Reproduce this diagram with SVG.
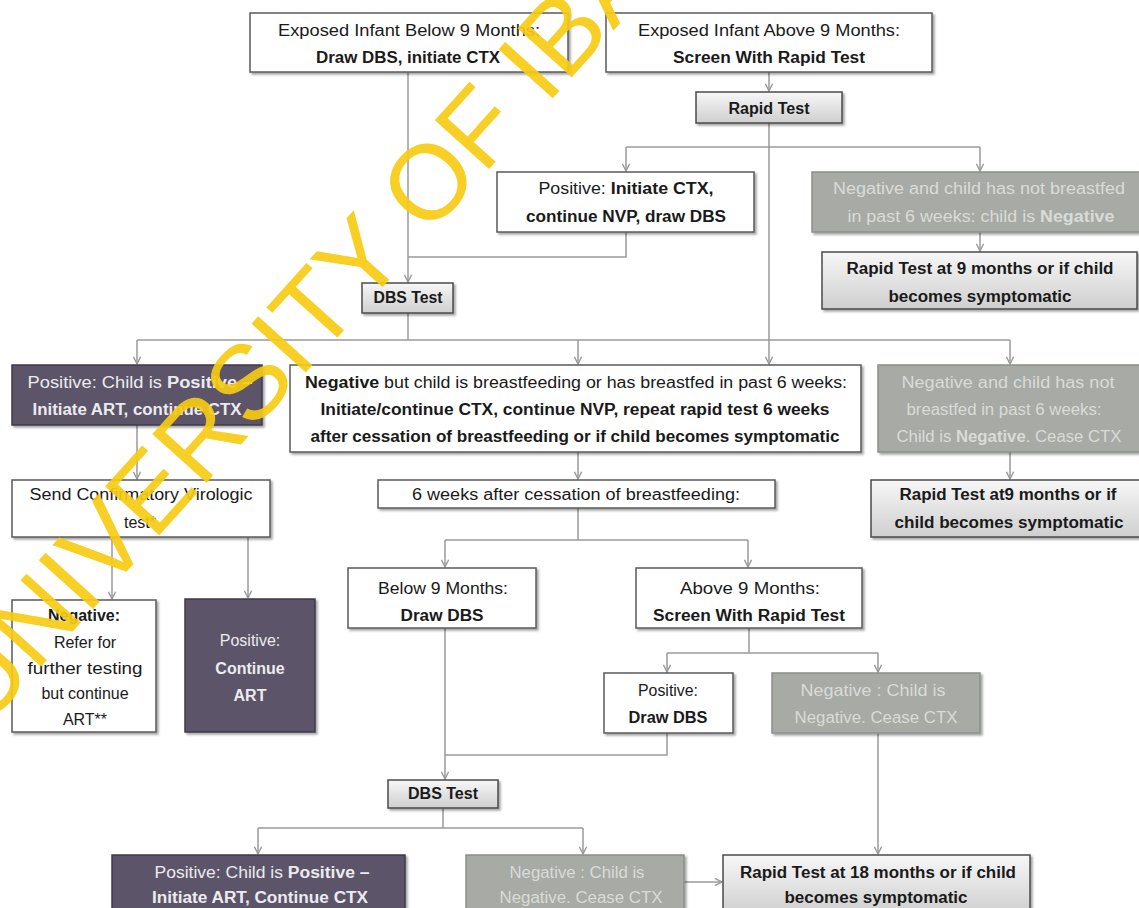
<svg xmlns="http://www.w3.org/2000/svg" width="1139" height="908" viewBox="0 0 1139 908">
  <defs>
    <linearGradient id="gTest" x1="0" y1="0" x2="0" y2="1">
      <stop offset="0" stop-color="#f7f7f7"/>
      <stop offset="1" stop-color="#cfcfcf"/>
    </linearGradient>
    <filter id="shadow" x="-5%" y="-5%" width="115%" height="130%">
      <feDropShadow dx="2" dy="2" stdDeviation="1.2" flood-color="#000" flood-opacity="0.35"/>
    </filter>
    <marker id="arr" viewBox="0 0 10 10" refX="9" refY="5" markerWidth="9" markerHeight="9" markerUnits="userSpaceOnUse" orient="auto">
      <path d="M1,1 L9,5 L1,9" fill="none" stroke="#9a9a9a" stroke-width="1.6"/>
    </marker>
  </defs>
  <style>
    text { font-family: "Liberation Sans Narrow", "Liberation Sans", Arial, sans-serif; font-size: 16px; text-anchor: middle; }
    .b { font-weight: bold; }
    .box { fill: #ffffff; stroke: #5a5a5a; stroke-width: 1.5; filter: url(#shadow); }
    .test { fill: url(#gTest); stroke: #4a4a4a; stroke-width: 1.5; filter: url(#shadow); }
    .dark { fill: #5b5569; stroke: #3e3a48; stroke-width: 1.5; filter: url(#shadow); }
    .grey { fill: #a8aaa6; stroke: #8c8e8a; stroke-width: 1.5; filter: url(#shadow); }
    .tw { fill: #1a1a1a; }
    .td { fill: #ecebf0; }
    .tg { fill: #d9dcd6; }
    .c { fill: none; stroke: #9a9a9a; stroke-width: 1.5; }
    .wm { font-family: "Liberation Sans", Arial, sans-serif; font-size: 106px; text-anchor: start; fill: #f6cb12; fill-opacity: 0.92; }
  </style>
  <rect width="1139" height="908" fill="#ffffff"/>

  <!-- connectors -->
  <g id="connectors">
    <path class="c" d="M769 72 V91" marker-end="url(#arr)"/>
    <path class="c" d="M769 123 V364" marker-end="url(#arr)"/>
    <path class="c" d="M626 147 H980"/>
    <path class="c" d="M626 147 V171" marker-end="url(#arr)"/>
    <path class="c" d="M980 147 V171" marker-end="url(#arr)"/>
    <path class="c" d="M980 232 V251" marker-end="url(#arr)"/>
    <path class="c" d="M408 72 V282" marker-end="url(#arr)"/>
    <path class="c" d="M626 232 V257 H408"/>
    <path class="c" d="M408 313 V340"/>
    <path class="c" d="M137 340 H1010"/>
    <path class="c" d="M137 340 V364" marker-end="url(#arr)"/>
    <path class="c" d="M578 340 V364" marker-end="url(#arr)"/>
    <path class="c" d="M1010 340 V364" marker-end="url(#arr)"/>
    <path class="c" d="M1010 452 V479" marker-end="url(#arr)"/>
    <path class="c" d="M137 425 V479" marker-end="url(#arr)"/>
    <path class="c" d="M112 537 V599" marker-end="url(#arr)"/>
    <path class="c" d="M248 537 V598" marker-end="url(#arr)"/>
    <path class="c" d="M578 452 V479" marker-end="url(#arr)"/>
    <path class="c" d="M578 508 V540"/>
    <path class="c" d="M445 540 H748"/>
    <path class="c" d="M445 540 V567" marker-end="url(#arr)"/>
    <path class="c" d="M748 540 V567" marker-end="url(#arr)"/>
    <path class="c" d="M749 628 V653"/>
    <path class="c" d="M667 653 H878"/>
    <path class="c" d="M667 653 V672" marker-end="url(#arr)"/>
    <path class="c" d="M878 653 V672" marker-end="url(#arr)"/>
    <path class="c" d="M445 628 V779" marker-end="url(#arr)"/>
    <path class="c" d="M667 733 V755 H445"/>
    <path class="c" d="M443 808 V828"/>
    <path class="c" d="M258 828 H583"/>
    <path class="c" d="M258 828 V854" marker-end="url(#arr)"/>
    <path class="c" d="M583 828 V854" marker-end="url(#arr)"/>
    <path class="c" d="M878 733 V854" marker-end="url(#arr)"/>
    <path class="c" d="M684 882 H722" marker-end="url(#arr)"/>
  </g>

  <!-- entry points -->
  <g id="infantBelow9">
    <rect class="box" x="250" y="13" width="318" height="59"/>
    <text class="tw" x="409" y="36" textLength="262" lengthAdjust="spacingAndGlyphs">Exposed Infant Below 9 Months:</text>
    <text class="tw b" x="408" y="63" textLength="184" lengthAdjust="spacingAndGlyphs">Draw DBS, initiate CTX</text>
  </g>
  <g id="infantAbove9">
    <rect class="box" x="606" y="13" width="326" height="59"/>
    <text class="tw" x="769" y="36" textLength="262" lengthAdjust="spacingAndGlyphs">Exposed Infant Above 9 Months:</text>
    <text class="tw b" x="769" y="63" textLength="192" lengthAdjust="spacingAndGlyphs">Screen With Rapid Test</text>
  </g>
  <g id="rapidTest">
    <rect class="test" x="696" y="92" width="146" height="31"/>
    <text class="tw b" x="769" y="114" textLength="81" lengthAdjust="spacingAndGlyphs">Rapid Test</text>
  </g>

  <!-- rapid test outcomes -->
  <g id="rapidPositive">
    <rect class="box" x="497" y="172" width="257" height="60"/>
    <text class="tw" x="626" y="194" textLength="175" lengthAdjust="spacingAndGlyphs">Positive:  <tspan class="b">Initiate CTX,</tspan></text>
    <text class="tw b" x="626" y="222" textLength="200" lengthAdjust="spacingAndGlyphs">continue NVP, draw DBS</text>
  </g>
  <g id="rapidNegativeNotBreastfed">
    <rect class="grey" x="812" y="172" width="330" height="60"/>
    <text class="tg" x="979" y="194" textLength="292" lengthAdjust="spacingAndGlyphs">Negative and child has not breastfed</text>
    <text class="tg" x="981" y="222" textLength="267" lengthAdjust="spacingAndGlyphs">in past 6 weeks: child is <tspan class="b">Negative</tspan></text>
  </g>
  <g id="rapidTest9">
    <rect class="test" x="822" y="252" width="315" height="57"/>
    <text class="tw b" x="980" y="274" textLength="267" lengthAdjust="spacingAndGlyphs">Rapid Test at 9 months or if child</text>
    <text class="tw b" x="980" y="302" textLength="183" lengthAdjust="spacingAndGlyphs">becomes symptomatic</text>
  </g>
  <g id="dbsTest1">
    <rect class="test" x="362" y="283" width="91" height="30"/>
    <text class="tw b" x="408" y="303" textLength="69" lengthAdjust="spacingAndGlyphs">DBS Test</text>
  </g>

  <!-- DBS outcomes -->
  <g id="dbsPositive">
    <rect class="dark" x="12" y="365" width="250" height="60"/>
    <text class="td" x="140" y="388" textLength="225" lengthAdjust="spacingAndGlyphs">Positive:  Child is <tspan class="b">Positive –</tspan></text>
    <text class="td b" x="137" y="415" textLength="209" lengthAdjust="spacingAndGlyphs">Initiate ART, continue CTX</text>
  </g>
  <g id="negativeBreastfeeding">
    <rect class="box" x="290" y="365" width="571" height="87"/>
    <text class="tw" x="576" y="388" textLength="542" lengthAdjust="spacingAndGlyphs"><tspan class="b">Negative</tspan> but child is breastfeeding or has breastfed in past 6 weeks:</text>
    <text class="tw b" x="575" y="415" textLength="509" lengthAdjust="spacingAndGlyphs">Initiate/continue CTX, continue NVP, repeat rapid test 6 weeks</text>
    <text class="tw b" x="575" y="442" textLength="529" lengthAdjust="spacingAndGlyphs">after cessation of breastfeeding or if child becomes symptomatic</text>
  </g>
  <g id="dbsNegativeNotBreastfed">
    <rect class="grey" x="878" y="365" width="264" height="87"/>
    <text class="tg" x="1008" y="388" textLength="213" lengthAdjust="spacingAndGlyphs">Negative and child has not</text>
    <text class="tg" x="1004" y="415" textLength="195" lengthAdjust="spacingAndGlyphs">breastfed in past 6 weeks:</text>
    <text class="tg" x="1009" y="442" textLength="225" lengthAdjust="spacingAndGlyphs">Child is <tspan class="b">Negative</tspan>. Cease CTX</text>
  </g>
  <g id="rapidTestAt9">
    <rect class="test" x="871" y="480" width="270" height="57"/>
    <text class="tw b" x="1008" y="500" textLength="217" lengthAdjust="spacingAndGlyphs">Rapid Test at9 months or if</text>
    <text class="tw b" x="1009" y="528" textLength="229" lengthAdjust="spacingAndGlyphs">child becomes symptomatic</text>
  </g>

  <!-- confirmation branch -->
  <g id="confirmatoryTest">
    <rect class="box" x="12" y="480" width="258" height="57"/>
    <text class="tw" x="141" y="500" textLength="223" lengthAdjust="spacingAndGlyphs">Send Confirmatory Virologic</text>
    <text class="tw" x="140" y="528">test*</text>
  </g>
  <g id="confirmNegative">
    <rect class="box" x="12" y="600" width="144" height="132"/>
    <text class="tw b" x="84" y="621">Negative:</text>
    <text class="tw" x="85" y="648">Refer for</text>
    <text class="tw" x="85" y="674" textLength="115" lengthAdjust="spacingAndGlyphs">further testing</text>
    <text class="tw" x="85" y="699">but continue</text>
    <text class="tw" x="85" y="725">ART**</text>
  </g>
  <g id="confirmPositive">
    <rect class="dark" x="185" y="599" width="130" height="133"/>
    <text class="td" x="250" y="646">Positive:</text>
    <text class="td b" x="250" y="674">Continue</text>
    <text class="td b" x="250" y="701">ART</text>
  </g>

  <!-- after breastfeeding stops -->
  <g id="sixWeeksAfter">
    <rect class="box" x="378" y="480" width="397" height="28"/>
    <text class="tw" x="576" y="500" textLength="328" lengthAdjust="spacingAndGlyphs">6 weeks after cessation of breastfeeding:</text>
  </g>
  <g id="below9">
    <rect class="box" x="348" y="568" width="188" height="60"/>
    <text class="tw" x="443" y="594" textLength="130" lengthAdjust="spacingAndGlyphs">Below 9 Months:</text>
    <text class="tw b" x="442" y="621" textLength="83" lengthAdjust="spacingAndGlyphs">Draw DBS</text>
  </g>
  <g id="above9">
    <rect class="box" x="636" y="568" width="226" height="60"/>
    <text class="tw" x="750" y="594" textLength="140" lengthAdjust="spacingAndGlyphs">Above 9 Months:</text>
    <text class="tw b" x="749" y="621" textLength="192" lengthAdjust="spacingAndGlyphs">Screen With Rapid  Test</text>
  </g>
  <g id="above9Positive">
    <rect class="box" x="604" y="673" width="129" height="60"/>
    <text class="tw" x="668" y="696" textLength="60" lengthAdjust="spacingAndGlyphs">Positive:</text>
    <text class="tw b" x="668" y="723" textLength="79" lengthAdjust="spacingAndGlyphs">Draw DBS</text>
  </g>
  <g id="above9Negative">
    <rect class="grey" x="772" y="673" width="208" height="60"/>
    <text class="tg" x="873" y="696" textLength="145" lengthAdjust="spacingAndGlyphs">Negative : Child is</text>
    <text class="tg" x="876" y="723" textLength="163" lengthAdjust="spacingAndGlyphs">Negative. Cease CTX</text>
  </g>
  <g id="dbsTest2">
    <rect class="test" x="388" y="780" width="110" height="28"/>
    <text class="tw b" x="443" y="799" textLength="70" lengthAdjust="spacingAndGlyphs">DBS Test</text>
  </g>

  <!-- final outcomes -->
  <g id="finalPositive">
    <rect class="dark" x="112" y="855" width="293" height="60"/>
    <text class="td" x="262" y="878" textLength="215" lengthAdjust="spacingAndGlyphs">Positive: Child is <tspan class="b">Positive –</tspan></text>
    <text class="td b" x="260" y="903" textLength="216" lengthAdjust="spacingAndGlyphs">Initiate ART, Continue CTX</text>
  </g>
  <g id="finalNegative">
    <rect class="grey" x="466" y="855" width="218" height="60"/>
    <text class="tg" x="577" y="878" textLength="135" lengthAdjust="spacingAndGlyphs">Negative : Child is</text>
    <text class="tg" x="581" y="903" textLength="163" lengthAdjust="spacingAndGlyphs">Negative. Cease CTX</text>
  </g>
  <g id="rapidTest18">
    <rect class="test" x="723" y="855" width="307" height="60"/>
    <text class="tw b" x="878" y="878" textLength="276" lengthAdjust="spacingAndGlyphs">Rapid Test at 18 months or if child</text>
    <text class="tw b" x="876" y="903" textLength="183" lengthAdjust="spacingAndGlyphs">becomes symptomatic</text>
  </g>

  <!-- library watermark, laid over the chart -->
  <text class="wm" x="-16" y="730" transform="rotate(-48 -16 730)">UNIVERSITY OF IBADAN</text>
</svg>
